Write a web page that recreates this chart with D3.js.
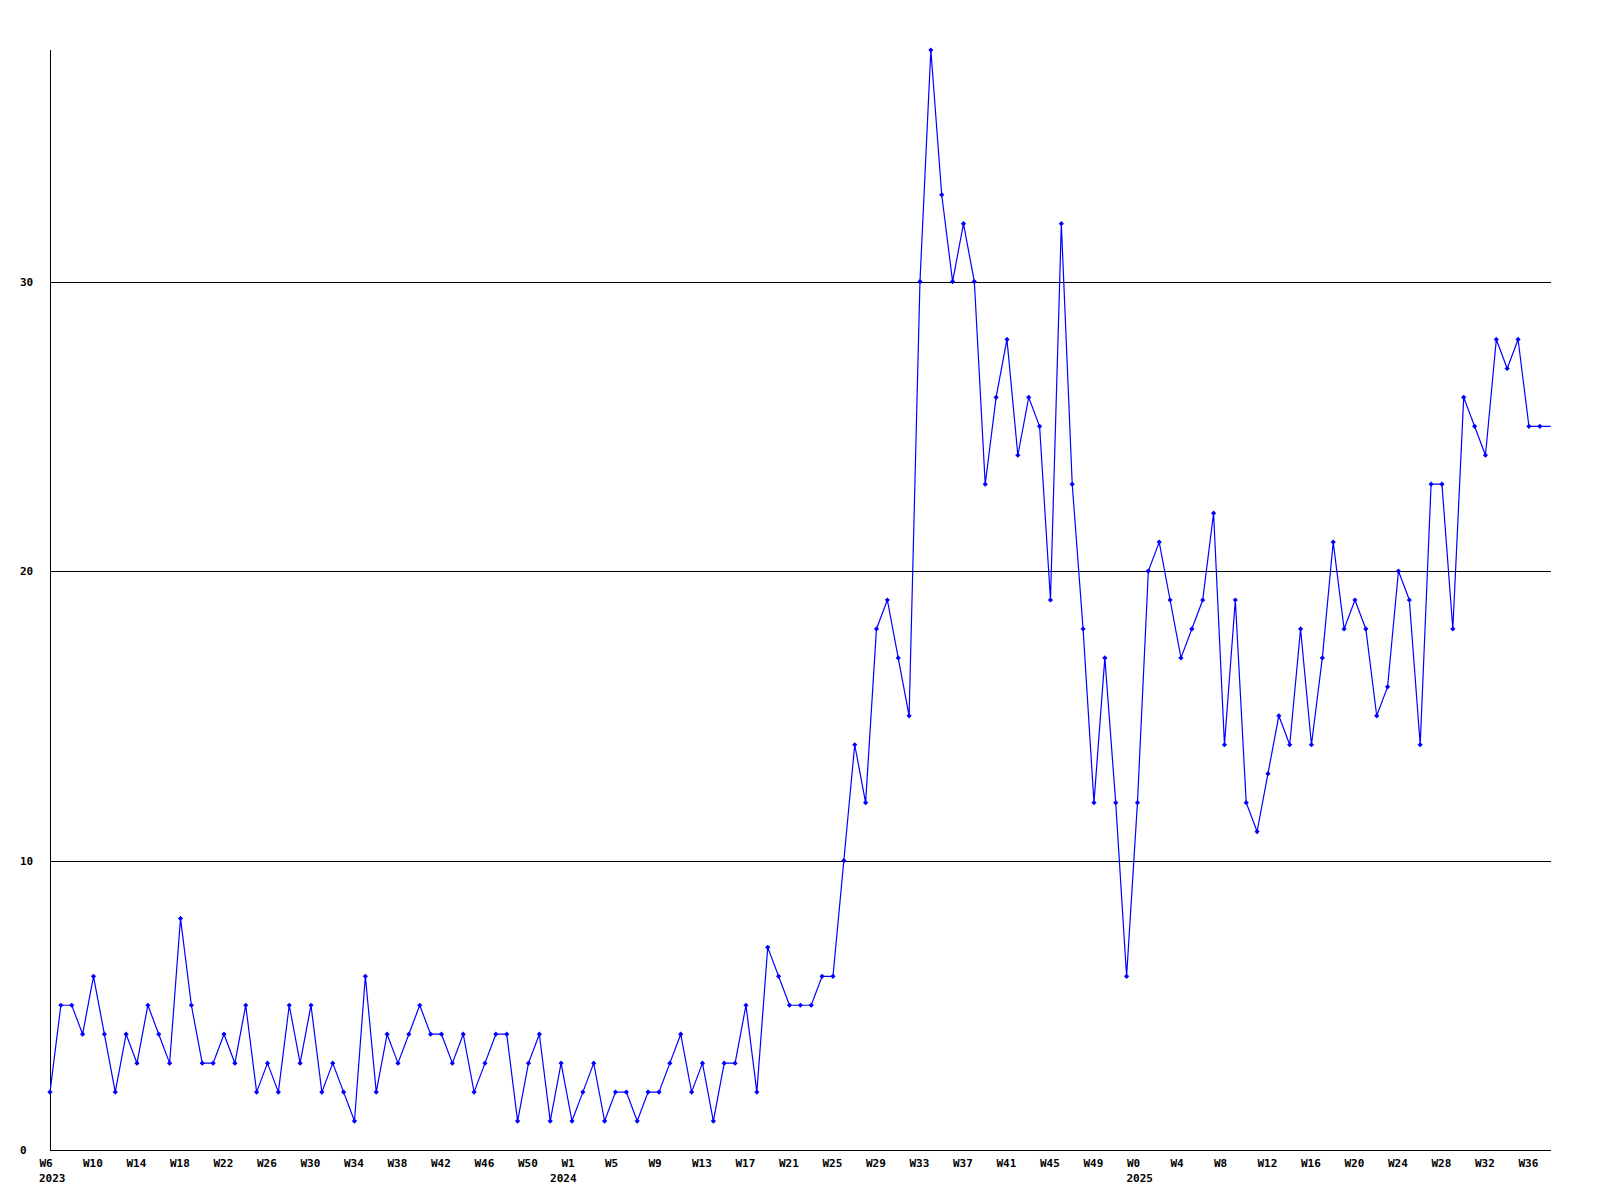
<!DOCTYPE html>
<html>
<head>
<meta charset="utf-8">
<script src="https://cdn.jsdelivr.net/npm/d3@7/dist/d3.min.js"></script>
<style>
  html, body { margin: 0; padding: 0; background: #ffffff; }
  svg { display: block; }
  text { font-family: "DejaVu Sans Mono", "Liberation Mono", monospace; font-weight: bold; font-size: 11px; fill: #000; }
</style>
</head>
<body>
<script>
// ---- Data (weekly counts) ----
const years = ["2023", "2024", "2025"];
const weeks2023 = d3.range(6, 53);   // W6 .. W52
const weeks2024 = d3.range(0, 53);   // W0 .. W52
const weeks2025 = d3.range(0, 39);   // W0 .. W38

const values2023 = [2,5,5,4,6,4,2,4,3,5,4,3,8,5,3,3,4,3,5,2,3,2,5,3,5,2,3,2,1,6,2,4,3,
                    4,5,4,4,3,4,2,3,4,4,1,3,4,1];
const values2024 = [3,1,2,3,1,2,2,1,2,2,3,4,2,3,1,3,3,5,2,7,6,5,5,5,6,6,10,14,12,18,19,17,15,
                    30,38,33,30,32,30,23,26,28,24,26,25,19,32,23,18,12,17,12,6];
const values2025 = [12,20,21,19,17,18,19,22,14,19,12,11,13,15,14,18,14,17,
                    21,18,19,18,15,16,20,19,14,23,23,18,26,25,24,28,27,28,25,25,25];

const yTickValues = [0, 10, 20, 30];
const yMax = 38;
const tickEvery = 4;

// ---- Build table ----
const categories = [];
const counts = [];
[[years[0], weeks2023, values2023], [years[1], weeks2024, values2024], [years[2], weeks2025, values2025]]
  .forEach(([yr, wks, vals]) => {
    wks.forEach((w, i) => {
      categories.push({ year: yr, week: "W" + w, first: i === 0 });
      counts.push(vals[i]);
    });
  });
const data = counts.map((v, i) => ({ i, v, cat: categories[i] }));

// ---- Layout ----
const W = 1600, H = 1200;
const plotL = 50, plotR = 1550.7, plotT = 50, plotB = 1150;

const svg = d3.select("body").append("svg").attr("width", W).attr("height", H);
svg.append("rect").attr("width", W).attr("height", H).attr("fill", "#fff");

const x = d3.scaleLinear().domain([0, data.length - 1]).range([plotL, plotR]);
const y = d3.scaleLinear().domain([0, yMax]).range([plotB, plotT]);

// grid lines
svg.append("g").selectAll("line")
  .data(yTickValues.filter(d => d > 0))
  .join("line")
  .attr("x1", plotL).attr("x2", Math.round(plotR))
  .attr("y1", d => Math.round(y(d)) + 0.5).attr("y2", d => Math.round(y(d)) + 0.5)
  .attr("stroke", "#000").attr("stroke-width", 1);

// axes lines
svg.append("line").attr("x1", plotL + 0.5).attr("x2", plotL + 0.5)
  .attr("y1", plotT).attr("y2", plotB + 1).attr("stroke", "#000");
svg.append("line").attr("x1", plotL).attr("x2", Math.round(plotR))
  .attr("y1", plotB + 0.5).attr("y2", plotB + 0.5).attr("stroke", "#000");

// y labels
svg.append("g").selectAll("text")
  .data(yTickValues)
  .join("text")
  .attr("x", 20)
  .attr("y", d => y(d) + 4)
  .text(d => d);

// x week labels
const ticks = data.filter(d => d.i % tickEvery === 0);
svg.append("g").selectAll("text")
  .data(ticks)
  .join("text")
  .attr("x", d => x(d.i) - 10.5)
  .attr("y", 1166.5)
  .text(d => d.cat.week);

// year labels
svg.append("g").selectAll("text")
  .data(data.filter(d => d.cat.first))
  .join("text")
  .attr("x", d => x(d.i) - 11)
  .attr("y", 1181.5)
  .text(d => d.cat.year);

// line
const line = d3.line().x(d => x(d.i)).y(d => y(d.v));
svg.append("path")
  .datum(data)
  .attr("d", line)
  .attr("fill", "none")
  .attr("stroke", "#0000ff")
  .attr("stroke-width", 1.2);

// markers (diamonds)
svg.append("g").selectAll("path")
  .data(data.filter(d => d.i < data.length - 1))
  .join("path")
  .attr("d", d => {
    const cx = x(d.i), cy = y(d.v), r = 2.6;
    return `M${cx},${cy - r}L${cx + r},${cy}L${cx},${cy + r}L${cx - r},${cy}Z`;
  })
  .attr("fill", "#0000ff");
</script>
</body>
</html>
